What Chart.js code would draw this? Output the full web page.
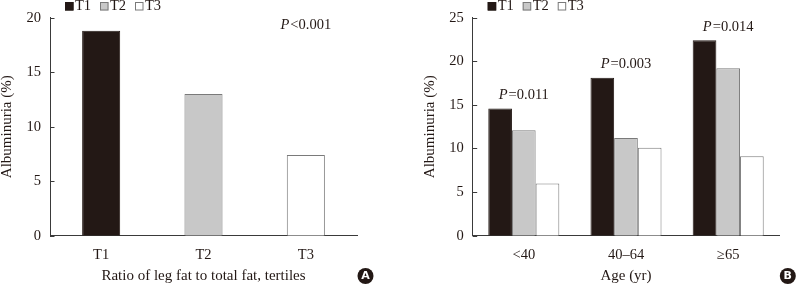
<!DOCTYPE html>
<html>
<head>
<meta charset="utf-8">
<script src="https://cdn.jsdelivr.net/npm/chart.js@4"></script>
<style>
  body { margin: 0; background: #fff; }
  .wrap { position: absolute; top: 0; height: 287px; }
</style>
</head>
<body>
<div class="wrap" style="left:0;width:400px"><canvas id="chartA" width="400" height="287"></canvas></div>
<div class="wrap" style="left:400px;width:399px"><canvas id="chartB" width="399" height="287"></canvas></div>
<script>
// data
const tertiles = ['T1', 'T2', 'T3'];
const categoriesA = ['T1', 'T2', 'T3'];
const valuesA = [18.8, 13.0, 7.4];
const pLabelA = '<0.001';

const categoriesB = ['<40', '40\u201364', '\u226565'];
const t1B = [14.6, 18.1, 22.4];
const t2B = [12.1, 11.2, 19.2];
const t3B = [6.0, 10.1, 9.1];
const pLabelsB = ['=0.011', '=0.003', '=0.014'];

const fills = ['#231815', '#c8c8c8', '#ffffff'];
const borders = ['#231815', '#7a7a7a', '#7a7a7a'];

const FONT = "'Liberation Serif', 'DejaVu Serif', serif";
const axisColor = '#3a3a3a';

function drawP(ctx, rest, x, y) {
    ctx.save();
    ctx.fillStyle = '#231815';
    ctx.textBaseline = 'middle';
    ctx.font = 'italic 14.5px ' + FONT;
    const wp = ctx.measureText('P').width;
    ctx.font = '14.5px ' + FONT;
    const wr = ctx.measureText(rest).width;
    const x0 = x - (wp + wr + 1) / 2;
    ctx.font = 'italic 14.5px ' + FONT;
    ctx.textAlign = 'left';
    ctx.fillText('P', x0, y);
    ctx.font = '14.5px ' + FONT;
    ctx.fillText(rest, x0 + wp + 1, y);
    ctx.restore();
}

function decorations(badge, pDraw) {
    return {
        id: 'decor',
        afterDraw(chart) {
            const ctx = chart.ctx;
            const area = chart.chartArea;
            const y = chart.scales.y;
            // inward ticks on the y axis
            ctx.save();
            ctx.strokeStyle = axisColor;
            ctx.lineWidth = 1;
            y.ticks.forEach(t => {
                const py = Math.round(y.getPixelForValue(t.value)) + 0.5;
                ctx.beginPath();
                ctx.moveTo(area.left, py);
                ctx.lineTo(area.left + 4.5, py);
                ctx.stroke();
            });
            ctx.restore();

            // legend
            ctx.save();
            ctx.font = '14.5px ' + FONT;
            ctx.textBaseline = 'middle';
            let lx = area.left + 15;
            tertiles.forEach((name, i) => {
                ctx.fillStyle = fills[i];
                ctx.fillRect(lx, 2, 8.5, 8.5);
                ctx.strokeStyle = borders[i];
                ctx.strokeRect(lx + 0.5, 2.5, 7.5, 7.5);
                ctx.fillStyle = '#231815';
                ctx.fillText(name, lx + 10, 6);
                lx += 35;
            });
            ctx.restore();

            pDraw(chart);

            // panel badge
            ctx.save();
            const bx = area.right + 8.5, by = 276;
            ctx.fillStyle = '#231815';
            ctx.beginPath();
            ctx.arc(bx, by, 8, 0, Math.PI * 2);
            ctx.fill();
            ctx.fillStyle = '#ffffff';
            ctx.font = 'bold 11px "DejaVu Sans", sans-serif';
            ctx.textAlign = 'center';
            ctx.textBaseline = 'middle';
            ctx.fillText(badge, bx, by + 0.5);
            ctx.restore();
        }
    };
}

function scalesFor(max, title, yWidth) {
    return {
        x: {
            grid: { display: false, drawTicks: false },
            border: { display: true, color: axisColor, width: 1 },
            ticks: { color: '#231815', padding: 11, font: { family: FONT, size: 14.5 } },
            title: {
                display: true, text: title, color: '#231815',
                font: { family: FONT, size: 15, lineHeight: 1 },
                padding: { top: 0, bottom: 3.5 }
            },
            afterFit: s => { s.height = 51.3; }
        },
        y: {
            min: 0, max: max,
            ticks: { stepSize: 5, color: '#231815', padding: 9, font: { family: FONT, size: 14.5 } },
            grid: { display: false, drawTicks: false },
            border: { display: true, color: axisColor, width: 1 },
            title: {
                display: true, text: 'Albuminuria (%)', color: '#231815',
                font: { family: FONT, size: 15, lineHeight: 1 },
                padding: { top: 0, bottom: 0 }
            },
            afterFit: s => { s.width = yWidth; }
        }
    };
}

new Chart(document.getElementById('chartA'), {
    type: 'bar',
    data: {
        labels: categoriesA,
        datasets: [{
            data: valuesA,
            backgroundColor: fills,
            borderColor: borders,
            borderWidth: 1,
            categoryPercentage: 1,
            barPercentage: 0.372
        }]
    },
    options: {
        responsive: false,
        animation: false,
        layout: { padding: { top: 15.7, right: 43, left: 0, bottom: 0 } },
        plugins: { legend: { display: false }, tooltip: { enabled: false } },
        scales: scalesFor(20, 'Ratio of leg fat to total fat, tertiles', 50)
    },
    plugins: [decorations('A', chart => {
        const x = chart.scales.x.getPixelForValue(2);
        const y = chart.scales.y.getPixelForValue(19.3);
        drawP(chart.ctx, pLabelA, x, y);
    })]
});

const seriesB = [t1B, t2B, t3B];
new Chart(document.getElementById('chartB'), {
    type: 'bar',
    data: {
        labels: categoriesB,
        datasets: seriesB.map((vals, i) => ({
            label: tertiles[i],
            data: vals,
            backgroundColor: fills[i],
            borderColor: borders[i],
            borderWidth: 1,
            categoryPercentage: 0.695,
            barPercentage: 1
        }))
    },
    options: {
        responsive: false,
        animation: false,
        layout: { padding: { top: 15.7, right: 19.7, left: 22.5, bottom: 0 } },
        plugins: { legend: { display: false }, tooltip: { enabled: false } },
        scales: scalesFor(25, 'Age (yr)', 50.2)
    },
    plugins: [decorations('B', chart => {
        categoriesB.forEach((c, i) => {
            const x = chart.scales.x.getPixelForValue(i);
            const top = Math.max(t1B[i], t2B[i], t3B[i]);
            const y = chart.scales.y.getPixelForValue(top) - 13.5;
            drawP(chart.ctx, pLabelsB[i], x, y);
        });
    })]
});
</script>
</body>
</html>
